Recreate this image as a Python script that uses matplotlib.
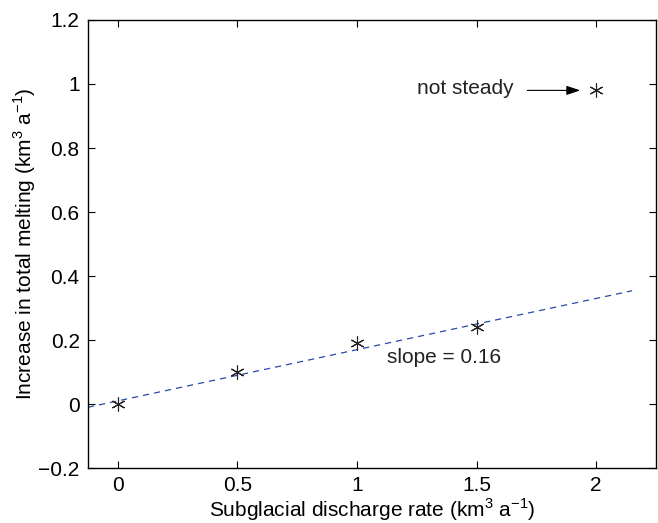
#!/usr/bin/env python3

import numpy as np
import matplotlib
matplotlib.use('Agg')
import matplotlib.pyplot as plt

plt.rcParams['font.family']=['Liberation Sans','DejaVu Sans']
plt.rcParams['mathtext.fontset']='custom'
plt.rcParams['mathtext.rm']='Liberation Sans'

# discharge vs extra melt
discharge=[0,0.5,1,1.5,2]
melt=[0,0.1,0.19,0.24,0.98]

# linear fit shown as dashed line
fitX=[-0.125,2.15]
slope=0.16
intercept=0.01

xticks=[0,0.5,1,1.5,2]
xtickLabels=['0','0.5','1','1.5','2']
yticks=[-0.2,0,0.2,0.4,0.6,0.8,1,1.2]
ytickLabels=['\u22120.2','0','0.2','0.4','0.6','0.8','1','1.2']

fs=15

fig=plt.figure(figsize=(6.58,5.23),dpi=100)
ax=fig.add_axes([0.1337,0.105,0.8633,0.8568])

fx=np.array(fitX)
ax.plot(fx,slope*fx+intercept,'--',color='#2a4aa8',lw=0.9,dashes=(5,4))
ax.plot(discharge,melt,linestyle='none',marker=(6,2,0),ms=10,mec='#222222',mew=0.8)

ax.annotate('',xy=(1.945,0.98),xytext=(1.70,0.98),
  arrowprops=dict(arrowstyle='-|>,head_length=0.6,head_width=0.2',color='k',lw=0.8,mutation_scale=14))
ax.text(1.25,0.985,'not steady',fontsize=fs,va='center',ha='left',color='#222222')
ax.text(1.125,0.147,'slope = %.2f'%slope,fontsize=fs,va='center',ha='left',color='#222222')

ax.set_xlim(-0.125,2.25)
ax.set_ylim(-0.2,1.2)
ax.set_xticks(xticks)
ax.set_xticklabels(xtickLabels)
ax.set_yticks(yticks)
ax.set_yticklabels(ytickLabels)
ax.tick_params(direction='in',top=True,right=True,length=5,width=0.8,labelsize=fs,pad=6)
for s in ax.spines.values():
  s.set_linewidth(1.0)

ax.set_xlabel('Subglacial discharge rate (km$^3$ a$^{-1}$)',fontsize=fs,labelpad=0.5)
ax.set_ylabel('Increase in total melting (km$^3$ a$^{-1}$)',fontsize=fs,labelpad=0.5)

fig.savefig('out.png',dpi=100)
